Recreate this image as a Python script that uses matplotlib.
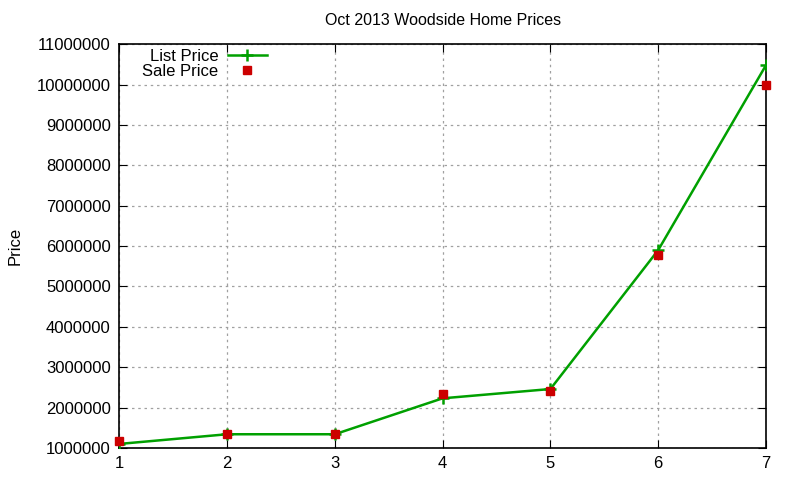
import numpy as np
import matplotlib.pyplot as plt

plt.rcParams['font.family'] = ['Liberation Sans', 'DejaVu Sans']

homes = [1, 2, 3, 4, 5, 6, 7]
list_price = [1100000, 1340000, 1340000, 2230000, 2460000, 5900000, 10480000]
sale_price = [1180000, 1350000, 1350000, 2340000, 2400000, 5780000, 10000000]
yticks = [1000000 * k for k in range(1, 12)]

fig = plt.figure(figsize=(8, 4.8), dpi=100)
ax = fig.add_axes([0.149, 0.0667, 0.8085, 0.8413])

ax.plot(homes, list_price, color='#00a000', linewidth=1.8, marker='+',
        markersize=9, markeredgewidth=1.8, label='List Price', zorder=3)
ax.plot(homes, sale_price, linestyle='none', marker='s', color='#cc0000',
        markersize=6, label='Sale Price', zorder=4, clip_on=False)

ax.set_xlim(1, 7)
ax.set_ylim(1000000, 11000000)
ax.set_yticks(yticks)
ax.set_yticklabels([str(v) for v in yticks])
ax.set_xticks(homes)
ax.grid(True, color='#a0a0a0', linestyle=(0, (2, 3)), linewidth=0.9)
ax.tick_params(direction='in', length=6, top=True, right=True, labelsize=12, pad=6)
for s in ax.spines.values():
    s.set_linewidth(1.2)

ax.set_ylabel('Price', fontsize=12, labelpad=10)
ax.set_title('Oct 2013 Woodside Home Prices', fontsize=11.5, pad=14)

leg = ax.legend(loc='upper left', bbox_to_anchor=(0.02, 1.013), frameon=False,
                markerfirst=False, fontsize=12, handlelength=2.3,
                handletextpad=0.6, labelspacing=0.0, borderaxespad=0.2)
for t in leg.get_texts():
    t.set_ha('right')
    t.set_position((0, 0))

fig.savefig('out.png', dpi=100)
